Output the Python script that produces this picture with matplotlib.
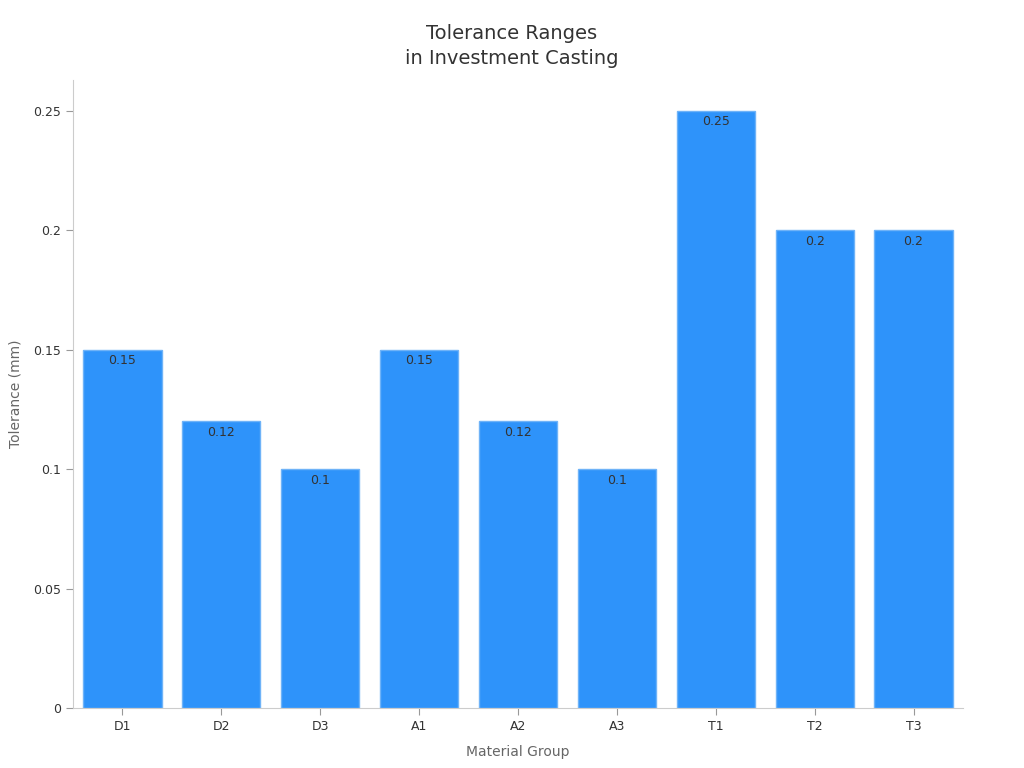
import matplotlib.pyplot as plt

groups = ['D1', 'D2', 'D3', 'A1', 'A2', 'A3', 'T1', 'T2', 'T3']
tolerance = [0.15, 0.12, 0.1, 0.15, 0.12, 0.1, 0.25, 0.2, 0.2]
y_ticks = [0, 0.05, 0.1, 0.15, 0.2, 0.25]
y_tick_labels = ['0', '0.05', '0.1', '0.15', '0.2', '0.25']

plt.rcParams['font.family'] = ['DejaVu Sans']

fig = plt.figure(figsize=(10.24, 7.68), dpi=100)
ax = fig.add_axes([0.0713, 0.0781, 0.8691, 0.8177])

bars = ax.bar(range(len(groups)), tolerance, width=0.79,
              color='#2E93FA', edgecolor='#6FB3F8', linewidth=1)

for rect, val in zip(bars, tolerance):
    ax.text(rect.get_x() + rect.get_width() / 2, val - 0.0018, f'{val:g}',
            ha='center', va='top', fontsize=9, color='#333333')

ax.set_xlim(-0.5, len(groups) - 0.5)
ax.set_ylim(0, 0.263)
ax.set_xticks(range(len(groups)))
ax.set_xticklabels(groups)
ax.set_yticks(y_ticks)
ax.set_yticklabels(y_tick_labels)
ax.tick_params(labelsize=9, colors='#333333', length=5)
ax.tick_params(axis='both', color='#999999')

for side in ['top', 'right']:
    ax.spines[side].set_visible(False)
for side in ['left', 'bottom']:
    ax.spines[side].set_color('#cccccc')

ax.set_xlabel('Material Group', fontsize=10, color='#666666', labelpad=9)
ax.set_ylabel('Tolerance (mm)', fontsize=10, color='#666666', labelpad=8)

fig.text(0.5, 0.94, 'Tolerance Ranges\nin Investment Casting', ha='center',
         va='center', fontsize=14, color='#333333', linespacing=1.45)

fig.savefig('out.png', dpi=100)
